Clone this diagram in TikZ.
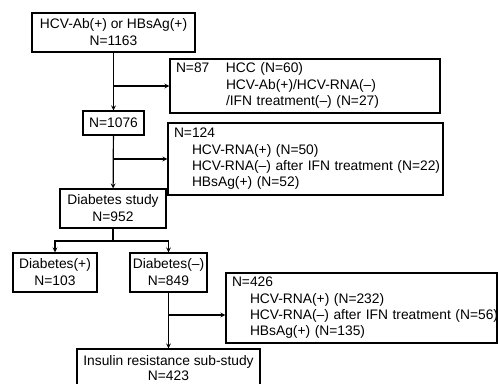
\documentclass[tikz,border=0pt]{standalone}
\usepackage{fontspec}
\setmainfont{Liberation Sans}
\usetikzlibrary{positioning}
\begin{document}
\begin{tikzpicture}[x=1pt,y=-1pt,>=stealth,line width=1.2pt,
  box/.style={draw,rectangle,inner sep=0pt,align=center,font=\fontsize{13.8}{17}\selectfont},
  lbox/.style={draw,rectangle,inner xsep=6pt,inner ysep=0pt,align=left,font=\fontsize{13.8}{16.3}\selectfont}]
  \useasboundingbox (0,0) rectangle (498,383);
  \node [box,minimum width=163pt,minimum height=39pt] (all) at (113.5,32.5) {HCV-Ab(+) or HBsAg(+)\\N=1163};
  \node [lbox,text width=258pt,minimum height=54pt] (ex1) at (305,86)
    {\begin{tabular}{@{}p{50pt}@{}l@{}}N=87 & HCC (N=60)\\ & HCV-Ab(+)/HCV-RNA(--)\\ & /IFN treatment(--) (N=27)\end{tabular}};
  \node [box,minimum width=61pt,minimum height=24pt] (n1076) at (113.5,123) {N=1076};
  \node [lbox,text width=263pt,minimum height=72pt] (ex2) at (305.5,159)
    {\begin{tabular}{@{}l@{}}N=124\\\hspace*{18pt}HCV-RNA(+) (N=50)\\\hspace*{18pt}HCV-RNA(--) after IFN treatment (N=22)\\\hspace*{18pt}HBsAg(+) (N=52)\end{tabular}};
  \node [box,minimum width=106pt,minimum height=39pt] (ds) at (113,208.5) {Diabetes study\\N=952};
  \node [box,minimum width=84pt,minimum height=39pt] (dp) at (55,272.5) {Diabetes(+)\\N=103};
  \node [box,minimum width=77pt,minimum height=39pt] (dm) at (168.5,272.5) {Diabetes(--)\\N=849};
  \node [lbox,text width=259pt,minimum height=70pt] (ex3) at (361.5,308)
    {\begin{tabular}{@{}l@{}}N=426\\\hspace*{18pt}HCV-RNA(+) (N=232)\\\hspace*{18pt}HCV-RNA(--) after IFN treatment (N=56)\\\hspace*{18pt}HBsAg(+) (N=135)\end{tabular}};
  \node [box,font=\fontsize{13.8}{15.5}\selectfont,minimum width=183pt,minimum height=38pt] (ir) at (168.5,368) {Insulin resistance sub-study\\N=423};
  \coordinate (b1) at (all.south |- ex1.west);
  \coordinate (b2) at (n1076.south |- ex2.west);
  \coordinate (s) at (113,241);
  \coordinate (b3) at (168.5,315);
  \draw [->] (all) -- (n1076);
  \draw [->] (b1) -- (ex1.west);
  \draw [->] (n1076) -- (ds);
  \draw [->] (b2) -- (ex2.west);
  \draw (ds) -- (s);
  \draw [->] (s) -| (dp);
  \draw [->] (s) -| (dm);
  \draw [->] (dm) -- (ir);
  \draw [->] (b3) -- (b3 -| ex3.west);
\end{tikzpicture}
\end{document}
